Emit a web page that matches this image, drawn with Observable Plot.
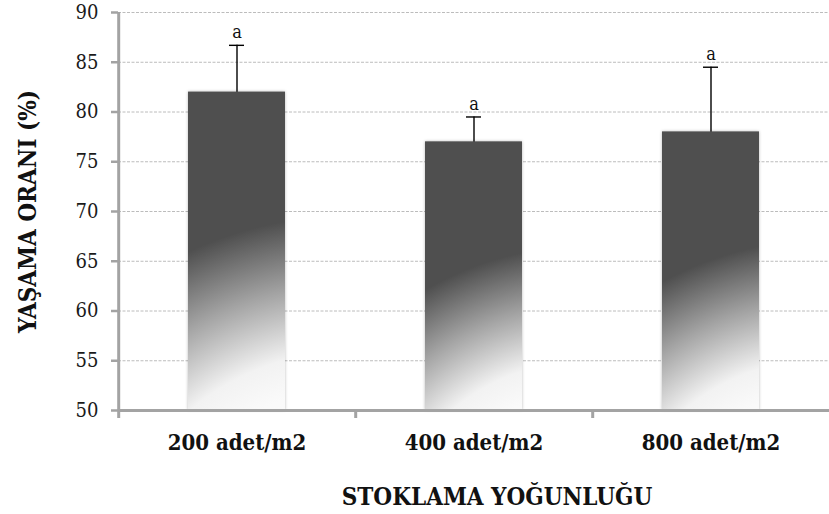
<!DOCTYPE html>
<html>
<head>
<meta charset="utf-8">
<script src="https://cdn.jsdelivr.net/npm/d3@7"></script>
<script src="https://cdn.jsdelivr.net/npm/@observablehq/plot@0.6"></script>
<style>
  html, body { margin: 0; padding: 0; background: #ffffff; }
  #chart { width: 829px; height: 514px; }
</style>
</head>
<body>
<div id="chart"></div>
<script>
const categories = ["200 adet/m2", "400 adet/m2", "800 adet/m2"];
const means = [82, 77, 78];
const errors = [4.7, 2.5, 6.5];
const letters = ["a", "a", "a"];
const yTicks = [50, 55, 60, 65, 70, 75, 80, 85, 90];
const xTitle = "STOKLAMA YOĞUNLUĞU";
const yTitle = "YAŞAMA ORANI (%)";

const data = categories.map((c, i) => ({cat: c, mean: means[i], err: errors[i], letter: letters[i]}));

const FONT = "'DejaVu Serif Condensed', 'DejaVu Serif', serif";
const AXIS_GRAY = "#a3a3a3";

const chart = Plot.plot({
  width: 829,
  height: 514,
  marginLeft: 118,
  marginRight: 0,
  marginTop: 12,
  marginBottom: 104,
  style: {fontFamily: FONT, background: "#ffffff", color: "#1a1a1a", overflow: "visible"},
  x: {domain: categories, paddingInner: 0.59, paddingOuter: 0.295, axis: null},
  y: {domain: [50, 90], axis: null},
  marks: [
    Plot.gridY(yTicks.filter(t => t > 50), {stroke: "#bcbcbc", strokeOpacity: 1, strokeWidth: 1, strokeDasharray: "3,1.5"}),
    Plot.ruleX(data, {x: "cat", y1: d => d.mean - d.err, y2: d => d.mean + d.err, stroke: "#000", strokeWidth: 1.4}),
    Plot.tickY(data, {x: "cat", y: d => d.mean + d.err, stroke: "#000", strokeWidth: 1.4, insetLeft: 41, insetRight: 41}),
    Plot.barY(data, {x: "cat", y1: 50, y2: "mean", fill: "#4f4f4f"}),
    Plot.text(data, {x: "cat", y: d => d.mean + d.err, text: "letter", lineAnchor: "bottom", dy: -7, fontSize: 18, fill: "#111"}),
    // axis lines
    Plot.ruleY([50], {stroke: AXIS_GRAY, strokeWidth: 3}),
    Plot.ruleX([categories[0]], {x: d => d, y1: 50, y2: 90, dx: -118.3, stroke: AXIS_GRAY, strokeWidth: 3}),
    // x boundary ticks
    Plot.ruleX(categories, {x: d => d, y1: 50, y2: 50, insetBottom: -8, dx: -118.3, stroke: AXIS_GRAY, strokeWidth: 3}),
    Plot.axisY(yTicks, {tickSize: 7, tickPadding: 13, stroke: AXIS_GRAY, strokeWidth: 2.5, fill: "#1a1a1a", fontSize: 20, label: null}),
    Plot.axisX({tickSize: 0, tickPadding: 24, fontSize: 22, fontWeight: "bold", fill: "#111", label: null}),
    Plot.text([xTitle], {frameAnchor: "bottom", textAnchor: "middle", lineAnchor: "middle", dy: 87, dx: 23, fontSize: 24, fontWeight: "bold", fill: "#111"}),
    Plot.text([yTitle], {frameAnchor: "left", textAnchor: "middle", rotate: -90, lineAnchor: "middle", dx: -90, fontSize: 24, fontWeight: "bold", fill: "#111"})
  ]
});

document.getElementById("chart").appendChild(chart);

// Gradient fill + soft shadow for bars (derived from rendered geometry)
const svg = chart.tagName.toLowerCase() === "svg" ? chart : chart.querySelector("svg");
const NS = "http://www.w3.org/2000/svg";
const defs = document.createElementNS(NS, "defs");
svg.insertBefore(defs, svg.firstChild);
const barGroup = svg.querySelector('g[aria-label="bar"]');
if (barGroup) {
  barGroup.style.filter = "drop-shadow(0px 0px 1.5px rgba(0,0,0,0.28))";
  barGroup.querySelectorAll("rect").forEach((r, i) => {
    const x = +r.getAttribute("x"), y = +r.getAttribute("y");
    const w = +r.getAttribute("width"), h = +r.getAttribute("height");
    const g = document.createElementNS(NS, "radialGradient");
    g.setAttribute("id", "barGrad" + i);
    g.setAttribute("gradientUnits", "userSpaceOnUse");
    g.setAttribute("cx", x + 1.68 * w);
    g.setAttribute("cy", y + h + 0.6 * h);
    g.setAttribute("r", 1.21 * h);
    [[0, "#ffffff"], [0.55, "#fafafa"], [0.648, "#f2f2f2"], [0.82, "#a4a4a4"], [1, "#4f4f4f"]].forEach(([o, c]) => {
      const s = document.createElementNS(NS, "stop");
      s.setAttribute("offset", o);
      s.setAttribute("stop-color", c);
      g.appendChild(s);
    });
    defs.appendChild(g);
    r.setAttribute("fill", `url(#barGrad${i})`);
  });
}
</script>
</body>
</html>
